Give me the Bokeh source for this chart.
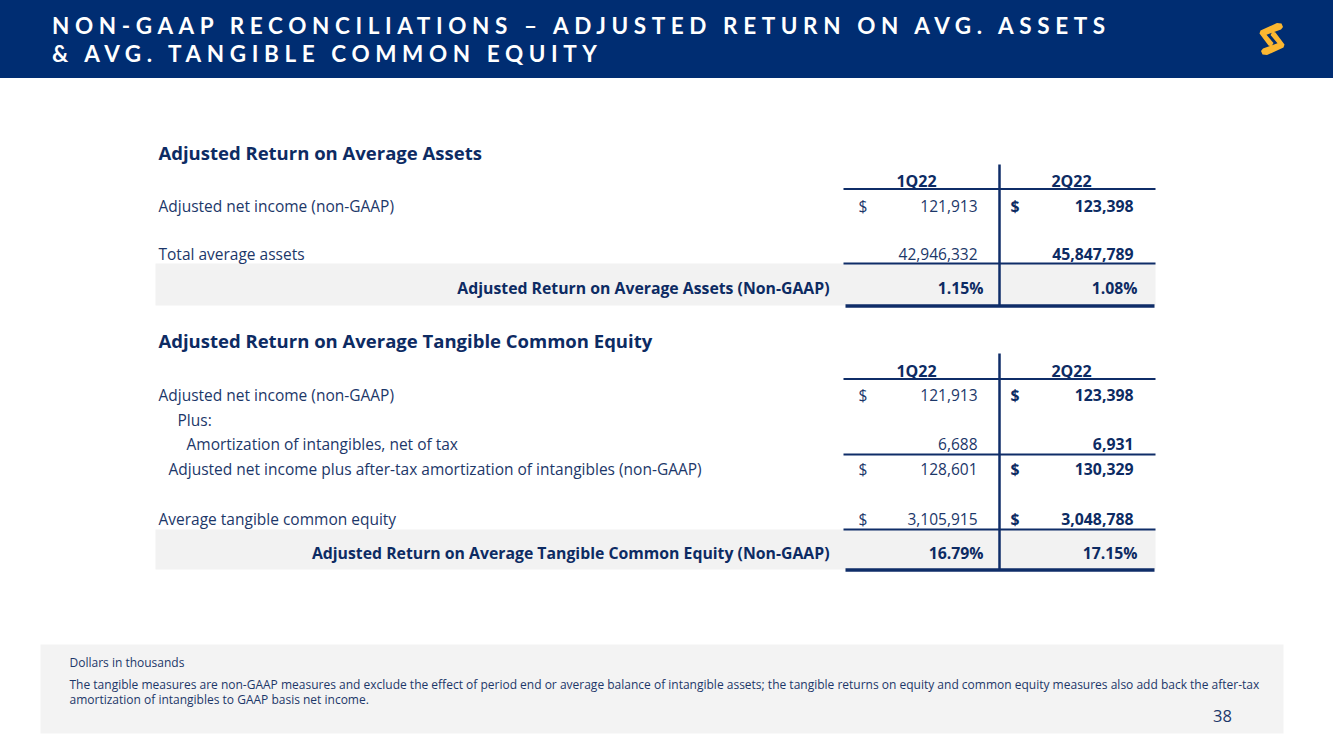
from bokeh.plotting import figure
from bokeh.models import Range1d, Div
from bokeh.layouts import column
from bokeh.core.properties import value
from bokeh.embed import file_html
from bokeh.resources import INLINE

# ---------------- data ----------------
title_lines = ["NON-GAAP RECONCILIATIONS \u2013 ADJUSTED RETURN ON AVG. ASSETS",
               "& AVG. TANGIBLE COMMON EQUITY"]
periods = ["1Q22", "2Q22"]

roa_title = "Adjusted Return on Average Assets"
roa_rows = ["Adjusted net income (non-GAAP)", "Total average assets"]
roa_1q22 = [121913, 42946332]
roa_2q22 = [123398, 45847789]
roa_dollar = [True, False]
roa_result_label = "Adjusted Return on Average Assets (Non-GAAP)"
roa_result = [1.15, 1.08]

rotce_title = "Adjusted Return on Average Tangible Common Equity"
rotce_rows = ["Adjusted net income (non-GAAP)", "Plus:",
              "Amortization of intangibles, net of tax",
              "Adjusted net income plus after-tax amortization of intangibles (non-GAAP)",
              "Average tangible common equity"]
rotce_1q22 = [121913, None, 6688, 128601, 3105915]
rotce_2q22 = [123398, None, 6931, 130329, 3048788]
rotce_dollar = [True, False, False, True, True]
rotce_result_label = "Adjusted Return on Average Tangible Common Equity (Non-GAAP)"
rotce_result = [16.79, 17.15]

note_lines = ["Dollars in thousands",
              "The tangible measures are non-GAAP measures and exclude the effect of period end or average balance of intangible assets; the tangible returns on equity and common equity measures also add back the after-tax",
              "amortization of intangibles to GAAP basis net income."]
page_number = "38"

# ---------------- styles ----------------
W, H, HEAD_H = 1333, 749, 78
NAVY_BG = "#002D72"
TXT = "#1C3769"
TXT_B = "#0D2B63"
LINE = "#0F2D68"
GRAY = "#F2F2F2"
GOLD = "#FBB731"
FONT = value("Open Sans")

# ---------------- header (HTML, letter-spaced) ----------------
def poly(pts):
    return " ".join(f"{x},{y}" for x, y in pts)

upper = [(1260.5, 30.5), (1277, 23), (1281.5, 23.5), (1283, 27), (1281, 29.5),
         (1266.5, 34.8), (1273.5, 43), (1271.5, 46.5), (1268.5, 45.5), (1259.5, 33.5)]
lower = [(2544 - x, 78 - y) for x, y in upper]
logo_svg = (f'<svg style="position:absolute;left:0;top:0" width="{W}" height="{HEAD_H}" '
            f'viewBox="0 0 {W} {HEAD_H}"><polygon points="{poly(upper)}" fill="{GOLD}"/>'
            f'<polygon points="{poly(lower)}" fill="{GOLD}"/></svg>')
line_style = ("position:absolute;left:52px;color:#ffffff;font-family:'Lato';font-weight:700;"
              "font-size:22.5px;letter-spacing:5.6px;line-height:22.5px;white-space:nowrap;")
title_divs = "".join(
    f'<div style="{line_style}top:{top}px;">{t.replace("&", "&amp;")}</div>'
    for t, top in zip(title_lines, [15, 42.5]))
header_html = (f'<div style="position:relative;width:{W}px;height:{HEAD_H}px;background:{NAVY_BG};overflow:hidden;">'
               f'{title_divs}{logo_svg}</div>')
header = Div(text=header_html, width=W, height=HEAD_H, margin=0)

# ---------------- table figure ----------------
p = figure(width=W, height=H - HEAD_H, x_range=Range1d(0, W), y_range=Range1d(H, HEAD_H),
           output_backend="svg", toolbar_location=None, min_border=0,
           x_axis_type=None, y_axis_type=None)
p.grid.visible = False
p.outline_line_color = None
p.background_fill_color = "white"
p.border_fill_color = "white"


def txt(x, y, s, size, bold=False, align="left", color=None):
    p.text(x=[x], y=[y], text=[s], text_font=FONT, text_font_size=size,
           text_font_style="bold" if bold else "normal", text_align=align,
           text_baseline="middle", text_color=color or (TXT_B if bold else TXT))


X_LABEL = 158
X_D1, X_V1 = 858, 977
X_D2, X_V2 = 1010, 1133
X_P1, X_P2 = 983, 1137
X_H1, X_H2 = 916, 1071
X_DIV = 999
X_L0, X_L1 = 843, 1155
FS = "15.5px"
FS_B = "15.8px"


def section(title, y_title, y_head, y_vtop, rows, indents, v1, v2, dollars, row_ys,
            y_rule_mid, result_label, result, y_band0, y_band1):
    txt(X_LABEL, y_title, title, "18.5px", bold=True)
    # grey result band
    p.quad(left=[155], right=[1155], top=[y_band0], bottom=[y_band1],
           fill_color=GRAY, line_color=None)
    # headers
    txt(X_H1, y_head, periods[0], "16px", bold=True, align="center")
    txt(X_H2, y_head, periods[1], "16px", bold=True, align="center")
    # rows
    for lab, ind, a, b, d, y in zip(rows, indents, v1, v2, dollars, row_ys):
        txt(X_LABEL + ind, y, lab, FS)
        if a is not None:
            txt(X_V1, y, f"{a:,}", FS, align="right")
            txt(X_V2, y, f"{b:,}", FS_B, bold=True, align="right")
        if d:
            txt(X_D1, y, "$", FS)
            txt(X_D2, y, "$", FS_B, bold=True)
    # result row
    yr = (y_band0 + y_band1) / 2 + 3
    txt(829, yr, result_label, FS_B, bold=True, align="right")
    txt(X_P1, yr, f"{result[0]:.2f}%", FS_B, bold=True, align="right")
    txt(X_P2, yr, f"{result[1]:.2f}%", FS_B, bold=True, align="right")
    # rules
    p.segment(x0=[X_DIV], x1=[X_DIV], y0=[y_vtop], y1=[y_band1 + 1], line_color=LINE, line_width=2.5)
    for yl in [y_head + 8.5] + y_rule_mid + [y_band0]:
        p.segment(x0=[X_L0], x1=[X_L1], y0=[yl], y1=[yl], line_color=LINE, line_width=2)
    p.segment(x0=[845], x1=[1154], y0=[y_band1 + 0.5], y1=[y_band1 + 0.5], line_color=LINE, line_width=3.5)


section(roa_title, 152, 180, 164, roa_rows, [0, 0], roa_1q22, roa_2q22, roa_dollar,
        [205, 253], [], roa_result_label, roa_result, 263, 305)
section(rotce_title, 340, 370, 353, rotce_rows, [0, 19, 28, 10, 0], rotce_1q22, rotce_2q22,
        rotce_dollar, [394, 419, 443, 468, 518], [454], rotce_result_label, rotce_result, 529, 569)

# footer note box
p.quad(left=[40], right=[1283], top=[644], bottom=[733], fill_color="#F3F3F3", line_color=None)
txt(69, 662, note_lines[0], "12px")
txt(69, 684, note_lines[1], "12px")
txt(69, 699, note_lines[2], "12px")
txt(1222, 715, page_number, "16.5px", align="center")

layout = column(header, p, spacing=0)
open("out.html", "w").write(file_html(layout, INLINE))
